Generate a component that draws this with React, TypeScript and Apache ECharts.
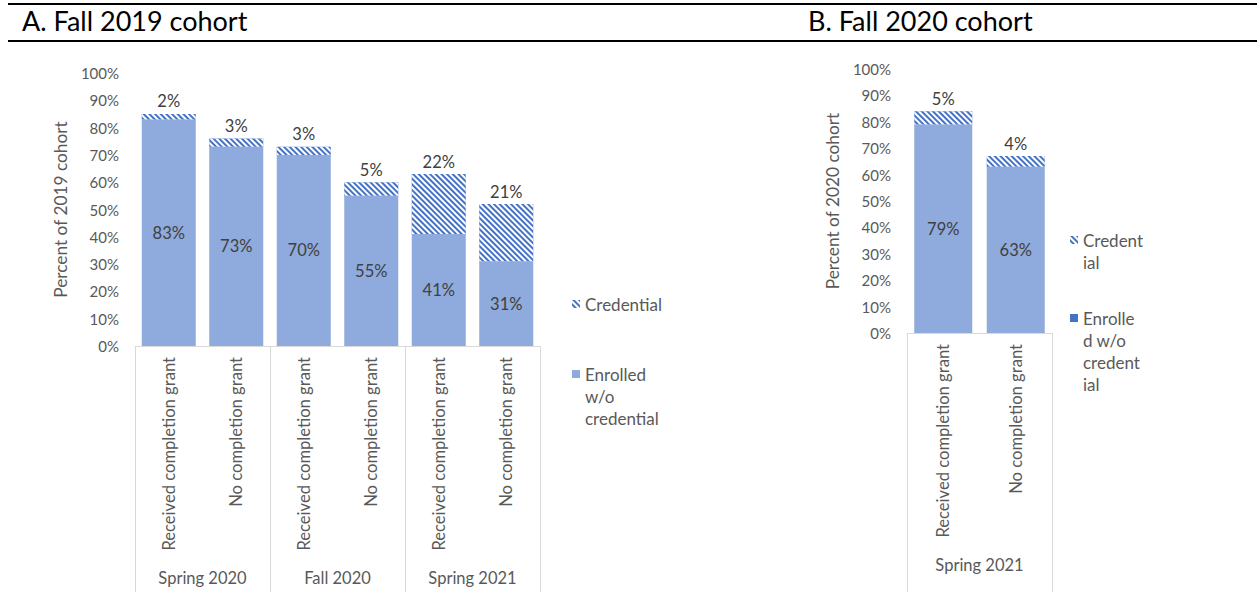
import React, { useEffect, useRef } from 'react';
import * as echarts from 'echarts';

const catsA = ['Received completion grant', 'No completion grant', 'Received completion grant', 'No completion grant', 'Received completion grant', 'No completion grant'];
const groupsA = ['Spring 2020', 'Fall 2020', 'Spring 2021'];
const enrolledA = [83, 73, 70, 55, 41, 31];
const credentialA = [2, 3, 3, 5, 22, 21];

const catsB = ['Received completion grant', 'No completion grant'];
const groupsB = ['Spring 2021'];
const enrolledB = [79, 63];
const credentialB = [5, 4];

const titleA = 'A. Fall 2019 cohort';
const titleB = 'B. Fall 2020 cohort';
const yNameA = 'Percent of 2019 cohort';
const yNameB = 'Percent of 2020 cohort';

const FONT = 'Lato';
const LIGHT = '#8FAADC';
const DARK = '#4472C4';
const TXT = '#595959';
const LBL = '#404040';

const hatch = {
  symbol: 'rect',
  symbolSize: 1,
  color: '#ffffff',
  dashArrayX: [1, 0],
  dashArrayY: [1.6, 1.6],
  rotation: Math.PI / 4,
};

function catAxes(grid: number, cats: string[], groups: string[]) {
  return [
    {
      type: 'category',
      gridIndex: grid,
      data: cats,
      axisLine: { show: false },
      axisTick: { show: false },
      axisLabel: { rotate: 90, margin: 11, interval: 0, fontFamily: FONT, fontSize: 16.6, color: TXT },
    },
    {
      type: 'category',
      gridIndex: grid,
      data: groups,
      position: 'bottom',
      axisLine: { show: true, lineStyle: { color: '#d9d9d9', width: 1 } },
      axisTick: { show: true, interval: 0, length: 270, lineStyle: { color: '#d9d9d9', width: 1 } },
      axisLabel: { margin: 223, interval: 0, fontFamily: FONT, fontSize: 16.5, color: TXT },
    },
  ];
}

function valAxis(grid: number, name: string) {
  return {
    type: 'value',
    gridIndex: grid,
    min: 0,
    max: 100,
    interval: 10,
    name,
    nameLocation: 'middle',
    nameRotate: 90,
    nameGap: 66,
    nameTextStyle: { fontFamily: FONT, fontSize: 17.3, color: TXT },
    axisLine: { show: false },
    axisTick: { show: false },
    splitLine: { show: false },
    axisLabel: { formatter: '{value}%', margin: 16, fontFamily: FONT, fontSize: 15, color: TXT },
  };
}

function barPair(stack: string, xi: number, yi: number, enr: number[], cred: number[]) {
  return [
    {
      type: 'bar',
      name: 'Enrolled w/o credential',
      stack,
      xAxisIndex: xi,
      yAxisIndex: yi,
      data: enr,
      barCategoryGap: '20%',
      itemStyle: { color: LIGHT },
      label: { show: true, position: 'inside', formatter: '{c}%', fontFamily: FONT, fontSize: 16.5, color: LBL },
    },
    {
      type: 'bar',
      name: 'Credential',
      stack,
      xAxisIndex: xi,
      yAxisIndex: yi,
      data: cred,
      barCategoryGap: '20%',
      itemStyle: { color: DARK, decal: hatch },
      label: { show: true, position: 'top', distance: 4, formatter: '{c}%', fontFamily: FONT, fontSize: 16.5, color: LBL },
    },
  ];
}

function legendItem(name: string, text: string, left: number, top: number, iconColor?: string) {
  return {
    data: [iconColor ? { name, itemStyle: { color: iconColor } } : name],
    left,
    top,
    orient: 'vertical',
    padding: 0,
    icon: 'rect',
    itemWidth: 8,
    itemHeight: 8,
    itemGap: 6,
    selectedMode: false,
    formatter: () => text,
    textStyle: { fontFamily: FONT, fontSize: 17, color: TXT, lineHeight: 22 },
  };
}

export default function App() {
  const ref = useRef<HTMLDivElement>(null);
  useEffect(() => {
    if (!ref.current) return;
    const chart = echarts.init(ref.current, null, { renderer: 'svg' });
    const option: any = {
      animation: false,
      backgroundColor: '#ffffff',
      grid: [
        { left: 135, top: 73, width: 405, height: 273 },
        { left: 907, top: 69, width: 145, height: 264 },
      ],
      xAxis: [...catAxes(0, catsA, groupsA), ...catAxes(1, catsB, groupsB)],
      yAxis: [valAxis(0, yNameA), valAxis(1, yNameB)],
      series: [...barPair('A', 0, 0, enrolledA, credentialA), ...barPair('B', 2, 1, enrolledB, credentialB)],
      legend: [
        legendItem('Credential', 'Credential', 572, 293),
        legendItem('Enrolled w/o credential', '\n\nEnrolled\nw/o\ncredential', 572, 319),
        legendItem('Credential', '\nCredent\nial', 1070, 207),
        legendItem('Enrolled w/o credential', '\n\n\nEnrolle\nd w/o\ncredent\nial', 1070, 241, DARK),
      ],
      graphic: [
        { type: 'line', shape: { x1: 8, y1: 4, x2: 1257, y2: 4 }, style: { stroke: '#000', lineWidth: 2 } },
        { type: 'line', shape: { x1: 8, y1: 41, x2: 1257, y2: 41 }, style: { stroke: '#000', lineWidth: 2 } },
        { type: 'text', left: 22, top: 7, style: { text: titleA, fontFamily: FONT, fontSize: 27, fill: '#000' } },
        { type: 'text', left: 808, top: 7, style: { text: titleB, fontFamily: FONT, fontSize: 27, fill: '#000' } },
      ],
    };
    chart.setOption(option);
    return () => chart.dispose();
  }, []);
  return <div ref={ref} style={{ position: 'absolute', left: 0, top: 0, width: 1257, height: 592 }} />;
}
